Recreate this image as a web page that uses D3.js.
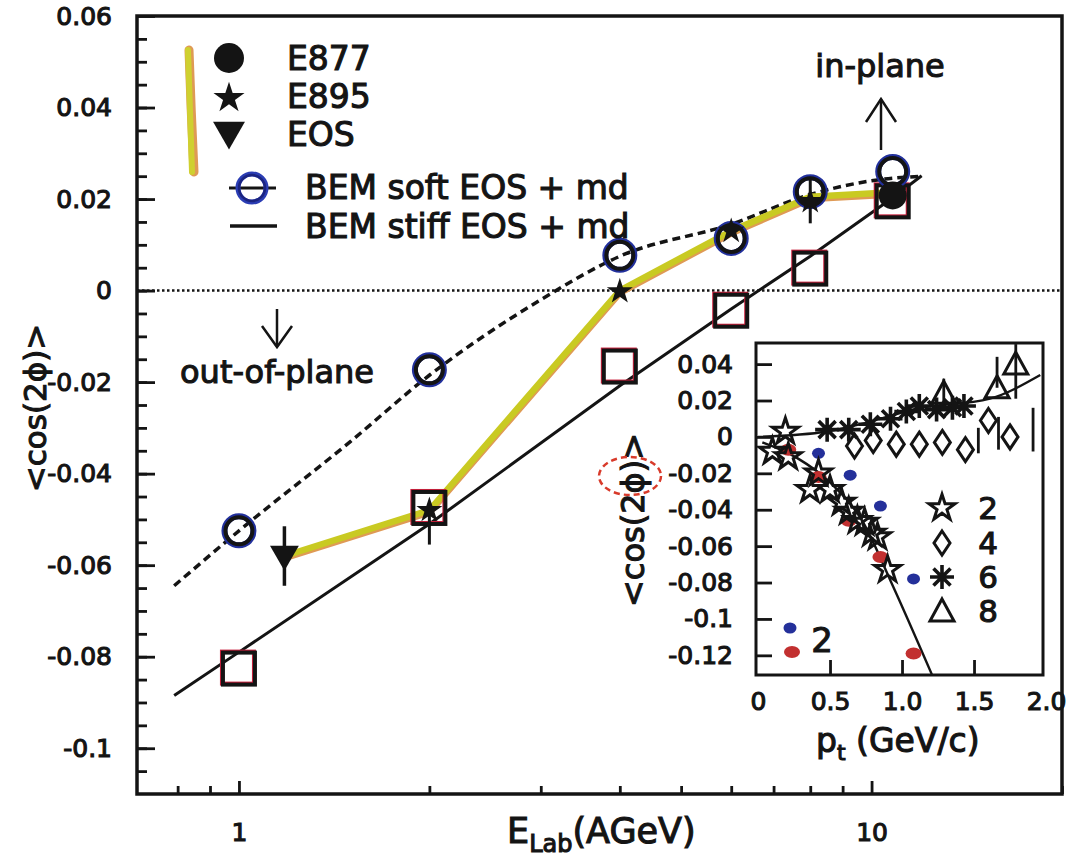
<!DOCTYPE html>
<html lang="en">
<head>
<meta charset="UTF-8">
<title>cos(2phi) vs E_Lab</title>
<script src="https://d3js.org/d3.v7.min.js"></script>
<style>
  body { margin: 0; background: #fff; }
  svg text { font-family: "DejaVu Sans", sans-serif; fill: #141414; stroke: #141414; stroke-width: 1.1px; }
</style>
</head>
<body>
<svg id="chart" width="1073" height="860"></svg>
<script>
// ---- main panel data (E_Lab in AGeV, <cos 2phi>) ----
const softX = [1, 2, 4, 6, 8, 10.8];
const softY = [-0.0525, -0.0173, 0.0077, 0.0114, 0.0216, 0.026];
const softCurveX = [0.79, 1, 1.5, 2, 3, 4, 6, 8, 10, 12];
const softCurveY = [-0.0645, -0.0525, -0.033, -0.0185, -0.002, 0.0075, 0.0145, 0.021, 0.024, 0.025];
const stiffX = [1, 2, 4, 6, 8, 10.8];
const stiffY = [-0.0826, -0.0475, -0.0166, -0.0044, 0.0048, 0.0195];
const stiffCurveX = [0.79, 1, 2, 4, 6, 8, 10.8, 12];
const stiffCurveY = [-0.0885, -0.079, -0.051, -0.0208, -0.004, 0.0075, 0.0203, 0.0251];
const e895X = [2, 4, 6, 8];
const e895Y = [-0.048, -0.0002, 0.013, 0.0195];
const e895Lo = [0.0075, 0, 0, 0.0048];
const e895Hi = [0.001, 0, 0, 0.005];
const e877X = [10.8];
const e877Y = [0.0208];
const eosX = [1.18];
const eosY = [-0.058];
const eosErr = [0.0065];
const highlightX = [1.18, 2, 4, 6, 8, 10.8];
const highlightY = [-0.058, -0.048, 0, 0.013, 0.0205, 0.0215];

const xMajor = [1, 10];
const xMinor = [0.8, 0.9, 2, 3, 4, 5, 6, 7, 8, 9, 20];
const xLabels = ["1", "10"];
const yMajor = [-0.1, -0.08, -0.06, -0.04, -0.02, 0, 0.02, 0.04, 0.06];
const yLabels = ["-0.1", "-0.08", "-0.06", "-0.04", "-0.02", "0", "0.02", "0.04", "0.06"];
const yMinor = d3.range(-21, 12).map(i => i * 0.005);

// ---- inset data (p_t in GeV/c) ----
const star2X = [0.10, 0.19, 0.21, 0.36, 0.42, 0.50, 0.58, 0.63, 0.69, 0.74, 0.79, 0.83, 0.90];
const star2Y = [-0.008, 0.003, -0.011, -0.029, -0.020, -0.029, -0.036, -0.041, -0.046, -0.047, -0.053, -0.055, -0.073];
const diam4X = [0.67, 0.80, 0.96, 1.12, 1.28, 1.44, 1.60, 1.75];
const diam4Y = [-0.005, -0.002, -0.004, -0.004, -0.003, -0.007, 0.009, 0.0];
const ast6X = [0.48, 0.63, 0.78, 0.92, 1.03, 1.12, 1.24, 1.35, 1.43];
const ast6Y = [0.004, 0.004, 0.007, 0.010, 0.014, 0.017, 0.015, 0.016, 0.017];
const tri8X = [1.29, 1.66, 1.79];
const tri8Y = [0.024, 0.027, 0.040];
const insetErrX = [1.29, 1.66, 1.79, 1.53, 1.67, 1.91];
const insetErrLo = [0.016, 0.027, 0.021, -0.009, -0.007, -0.008];
const insetErrHi = [0.032, 0.044, 0.051, 0.005, 0.011, 0.016];
const blueX = [0.42, 0.64, 0.85, 1.08];
const blueY = [-0.009, -0.021, -0.038, -0.078];
const redX = [0.21, 0.42, 0.63, 0.85, 1.08];
const redY = [-0.007, -0.022, -0.046, -0.066, -0.119];
const upperCurveX = [0, 0.48, 0.76, 1.10, 1.61, 1.96];
const upperCurveY = [0.0, 0.003, 0.008, 0.0155, 0.021, 0.034];
const lowerCurveX = [0.03, 0.27, 0.5, 0.73, 0.92, 1.21];
const lowerCurveY = [-0.003, -0.0115, -0.025, -0.047, -0.079, -0.131];
const insetXTicks = [0, 0.5, 1, 1.5, 2];
const insetXLabels = ["0", "0.5", "1.0", "1.5", "2.0"];
const insetYTicks = [-0.12, -0.1, -0.08, -0.06, -0.04, -0.02, 0, 0.02, 0.04];
const insetYLabels = ["-0.12", "-0.1", "-0.08", "-0.06", "-0.04", "-0.02", "0", "0.02", "0.04"];
const insetKeys = ["2", "4", "6", "8"];

const svg = d3.select("#chart");
const ink = "#141414";

// scales
const x = d3.scaleLog().domain([0.69, 20]).range([137, 1062]);
const y = d3.scaleLinear().domain([-0.11, 0.06]).range([794, 16]);
const xi = d3.scaleLinear().domain([-0.014, 1.979]).range([756, 1043]);
const yi = d3.scaleLinear().domain([-0.1308, 0.0516]).range([675, 343]);

const zip = (a, b) => a.map((v, i) => [v, b[i]]);
const line = (sx, sy, curve) => d3.line().x(d => sx(d[0])).y(d => sy(d[1])).curve(curve || d3.curveLinear);
const sym = (type, size) => d3.symbol().type(type).size(size)();

function styleAxis(g, fs) {
  g.select(".domain").remove();
  g.selectAll(".tick line").attr("stroke", ink).attr("stroke-width", 2.8);
  g.selectAll(".tick text").attr("font-family", "DejaVu Sans").attr("font-size", fs);
  g.attr("font-family", null).attr("font-size", null);
}

// ---- main axes ----
svg.append("g").attr("transform", "translate(137,0)")
  .call(d3.axisLeft(y).tickValues(yMinor).tickSize(-10).tickFormat(""))
  .call(g => styleAxis(g, 25));
svg.append("g").attr("transform", "translate(137,0)")
  .call(d3.axisLeft(y).tickValues(yMajor).tickSize(-18).tickPadding(25)
    .tickFormat(d => yLabels[yMajor.indexOf(d)]))
  .call(g => styleAxis(g, 25));
svg.append("g").attr("transform", "translate(0,794)")
  .call(d3.axisBottom(x).tickValues(xMinor).tickSize(-8).tickFormat(""))
  .call(g => styleAxis(g, 25));
svg.append("g").attr("transform", "translate(0,794)")
  .call(d3.axisBottom(x).tickValues(xMajor).tickSize(-13).tickPadding(29)
    .tickFormat(d => xLabels[xMajor.indexOf(d)]))
  .call(g => styleAxis(g, 25));

svg.append("rect").attr("x", 137).attr("y", 16).attr("width", 925).attr("height", 778)
  .attr("fill", "none").attr("stroke", ink).attr("stroke-width", 3.5);

// axis titles
const xt = svg.append("text").attr("x", 507).attr("y", 843).attr("font-size", 35);
xt.append("tspan").text("E");
xt.append("tspan").attr("font-size", 24).attr("dy", 9).text("Lab");
xt.append("tspan").attr("dy", -9).text("(AGeV)");
svg.append("text").attr("transform", "translate(35,408) rotate(-90)")
  .attr("text-anchor", "middle").attr("dy", "0.36em").attr("font-size", 31).text("<cos(2ϕ)>");

// zero line
svg.append("line").attr("x1", 137).attr("x2", 1062).attr("y1", y(0)).attr("y2", y(0))
  .attr("stroke", ink).attr("stroke-width", 2.5).attr("stroke-dasharray", "2.5,2.5");

// BEM soft (dashed curve) and stiff (solid line)
svg.append("path").attr("d", line(x, y, d3.curveMonotoneX)(zip(softCurveX, softCurveY)))
  .attr("fill", "none").attr("stroke", ink).attr("stroke-width", 3.5).attr("stroke-dasharray", "8,5");
svg.append("path").attr("d", line(x, y)(zip(stiffCurveX, stiffCurveY)))
  .attr("fill", "none").attr("stroke", ink).attr("stroke-width", 3);

// hand-drawn yellow highlight through data
const hl = zip(highlightX, highlightY);
svg.append("path").attr("d", line(x, y)(hl)).attr("transform", "translate(0,2)")
  .attr("fill", "none").attr("stroke", "#df9a55").attr("stroke-width", 7).attr("stroke-linecap", "round").attr("stroke-linejoin", "round");
svg.append("path").attr("d", line(x, y)(hl))
  .attr("fill", "none").attr("stroke", "#c9ca22").attr("stroke-width", 6.5).attr("stroke-linecap", "round").attr("stroke-linejoin", "round");

// stiff EOS squares
const sq = svg.append("g");
zip(stiffX, stiffY).forEach(([a, b]) => {
  sq.append("rect").attr("x", x(a) - 17).attr("y", y(b) - 17).attr("width", 32).attr("height", 32)
    .attr("fill", "none").attr("stroke", "#c8203c").attr("stroke-width", 4);
  sq.append("rect").attr("x", x(a) - 16).attr("y", y(b) - 16).attr("width", 32).attr("height", 32)
    .attr("fill", "none").attr("stroke", ink).attr("stroke-width", 4);
});

// soft EOS circles
const cg = svg.append("g");
zip(softX, softY).forEach(([a, b]) => {
  cg.append("circle").attr("cx", x(a)).attr("cy", y(b)).attr("r", 14.5)
    .attr("fill", "none").attr("stroke", "#22309c").attr("stroke-width", 6);
  cg.append("circle").attr("cx", x(a)).attr("cy", y(b)).attr("r", 13.5)
    .attr("fill", "none").attr("stroke", ink).attr("stroke-width", 4);
});

// data error bars
e895X.forEach((a, i) => {
  if (e895Lo[i] > 0) svg.append("line").attr("x1", x(a)).attr("x2", x(a))
    .attr("y1", y(e895Y[i] - e895Lo[i])).attr("y2", y(e895Y[i] + e895Hi[i])).attr("stroke", ink).attr("stroke-width", 3);
});
zip(eosX, eosErr).forEach(([a, e], i) => {
  svg.append("line").attr("x1", x(a)).attr("x2", x(a))
    .attr("y1", y(eosY[i] - e)).attr("y2", y(eosY[i] + e)).attr("stroke", ink).attr("stroke-width", 3.5);
});

// data markers
zip(e895X, e895Y).forEach(([a, b]) => {
  svg.append("path").attr("d", sym(d3.symbolStar, 210)).attr("transform", `translate(${x(a)},${y(b)})`).attr("fill", ink);
});
zip(e877X, e877Y).forEach(([a, b]) => {
  svg.append("circle").attr("cx", x(a)).attr("cy", y(b)).attr("r", 14).attr("fill", ink);
});
zip(eosX, eosY).forEach(([a, b]) => {
  svg.append("path").attr("d", sym(d3.symbolTriangle, 360))
    .attr("transform", `translate(${x(a)},${y(b) - 2}) rotate(180)`).attr("fill", ink);
});

// ---- legend ----
const lg = svg.append("g");
lg.append("path").attr("d", "M189,50 Q191,110 194,172").attr("fill", "none")
  .attr("stroke", "#df9a55").attr("stroke-width", 9).attr("stroke-linecap", "round");
lg.append("path").attr("d", "M188,50 Q190,110 192,172").attr("fill", "none")
  .attr("stroke", "#cfd030").attr("stroke-width", 6).attr("stroke-linecap", "round");
lg.append("circle").attr("cx", 229).attr("cy", 58).attr("r", 15).attr("fill", ink);
lg.append("path").attr("d", sym(d3.symbolStar, 300)).attr("transform", "translate(229,98)").attr("fill", ink);
lg.append("path").attr("d", sym(d3.symbolTriangle, 440)).attr("transform", "translate(229,131) rotate(180)").attr("fill", ink);
lg.append("line").attr("x1", 229).attr("x2", 276).attr("y1", 188).attr("y2", 188).attr("stroke", ink).attr("stroke-width", 3);
lg.append("circle").attr("cx", 252).attr("cy", 188).attr("r", 14).attr("fill", "none").attr("stroke", "#2b3db4").attr("stroke-width", 5);
lg.append("circle").attr("cx", 252).attr("cy", 188).attr("r", 13).attr("fill", "none").attr("stroke", "#1b2480").attr("stroke-width", 2.5);
lg.append("line").attr("x1", 230).attr("x2", 277).attr("y1", 226).attr("y2", 226).attr("stroke", ink).attr("stroke-width", 3.5);
const legTexts = [["E877", 287, 70], ["E895", 287, 108], ["EOS", 287, 146], ["BEM soft EOS + md", 305, 199], ["BEM stiff EOS + md", 305, 238]];
legTexts.forEach(([t, tx, ty]) => lg.append("text").attr("x", tx).attr("y", ty).attr("font-size", 33).text(t));

// annotations
svg.append("text").attr("x", 880).attr("y", 77).attr("text-anchor", "middle").attr("font-size", 32).text("in-plane");
svg.append("line").attr("x1", 881).attr("x2", 881).attr("y1", 150).attr("y2", 99).attr("stroke", ink).attr("stroke-width", 2.5);
svg.append("polyline").attr("points", "866,122 881,99 896,122").attr("fill", "none").attr("stroke", ink).attr("stroke-width", 2.5);
svg.append("text").attr("x", 277).attr("y", 383).attr("text-anchor", "middle").attr("font-size", 32).text("out-of-plane");
svg.append("line").attr("x1", 277).attr("x2", 277).attr("y1", 309).attr("y2", 347).attr("stroke", ink).attr("stroke-width", 2.5);
svg.append("polyline").attr("points", "262,326 277,347 292,326").attr("fill", "none").attr("stroke", ink).attr("stroke-width", 2.5);

// ---- inset ----
const ins = svg.append("g");
ins.append("rect").attr("x", 756).attr("y", 343).attr("width", 287).attr("height", 332).attr("fill", "#fff");

ins.append("path").attr("d", line(xi, yi, d3.curveMonotoneX)(zip(upperCurveX, upperCurveY)))
  .attr("fill", "none").attr("stroke", ink).attr("stroke-width", 2.4);
ins.append("path").attr("d", line(xi, yi, d3.curveMonotoneX)(zip(lowerCurveX, lowerCurveY)))
  .attr("fill", "none").attr("stroke", ink).attr("stroke-width", 2.4);

insetErrX.forEach((a, i) => {
  ins.append("line").attr("x1", xi(a)).attr("x2", xi(a)).attr("y1", yi(insetErrLo[i])).attr("y2", yi(insetErrHi[i]))
    .attr("stroke", ink).attr("stroke-width", 2.8);
});

// colored dots
zip(blueX, blueY).forEach(([a, b]) => ins.append("ellipse").attr("cx", xi(a)).attr("cy", yi(b)).attr("rx", 6.5).attr("ry", 5.5).attr("fill", "#24309a"));
zip(redX, redY).forEach(([a, b]) => ins.append("ellipse").attr("cx", xi(a)).attr("cy", yi(b)).attr("rx", 8).attr("ry", 6).attr("fill", "#c23030"));

const diamondPath = "M0,-12L8,0L0,12L-8,0Z";
const asteriskPath = "M0,-12V12M-12,0H12M-8.5,-8.5L8.5,8.5M-8.5,8.5L8.5,-8.5";
const triUpPath = "M0,-12L12,10H-12Z";
const starPath = sym(d3.symbolStar, 210);
const openMark = (p, a, b, w) => ins.append("path").attr("d", p).attr("transform", `translate(${a},${b})`)
  .attr("fill", "none").attr("stroke", ink).attr("stroke-width", w).attr("stroke-linejoin", "miter");

zip(diam4X, diam4Y).forEach(([a, b]) => openMark(diamondPath, xi(a), yi(b), 3));
zip(ast6X, ast6Y).forEach(([a, b]) => openMark(asteriskPath, xi(a), yi(b), 3.6));
zip(tri8X, tri8Y).forEach(([a, b]) => openMark(triUpPath, xi(a), yi(b), 3));
zip(star2X, star2Y).forEach(([a, b]) => openMark(starPath, xi(a), yi(b), 3));

// inset legend
const keyPaths = [starPath, diamondPath, asteriskPath, triUpPath];
const keyY = [508, 543, 577, 611];
keyPaths.forEach((p, i) => {
  openMark(p, 942, keyY[i], i === 2 ? 3.6 : 3);
  ins.append("text").attr("x", 988).attr("y", keyY[i]).attr("dy", "0.36em").attr("text-anchor", "middle").attr("font-size", 31).text(insetKeys[i]);
});
ins.append("ellipse").attr("cx", 790).attr("cy", 628).attr("rx", 6.5).attr("ry", 5.5).attr("fill", "#24309a");
ins.append("ellipse").attr("cx", 792).attr("cy", 652).attr("rx", 8).attr("ry", 6).attr("fill", "#c23030");
ins.append("text").attr("x", 822).attr("y", 640).attr("dy", "0.36em").attr("text-anchor", "middle").attr("font-size", 34).text("2");

// inset axes
ins.append("g").attr("transform", "translate(756,0)")
  .call(d3.axisLeft(yi).tickValues(insetYTicks).tickSize(-16).tickPadding(23)
    .tickFormat(d => insetYLabels[insetYTicks.indexOf(d)]))
  .call(g => styleAxis(g, 25));
ins.append("g").attr("transform", "translate(0,675)")
  .call(d3.axisBottom(xi).tickValues(insetXTicks).tickSize(-15).tickPadding(17)
    .tickFormat(d => insetXLabels[insetXTicks.indexOf(d)]))
  .call(g => styleAxis(g, 25))
  .call(g => g.selectAll(".tick line").filter(d => d === 0 || d === 2).remove());
ins.append("rect").attr("x", 756).attr("y", 343).attr("width", 287).attr("height", 332)
  .attr("fill", "none").attr("stroke", ink).attr("stroke-width", 3);

const pt = ins.append("text").attr("x", 816).attr("y", 752).attr("font-size", 33);
pt.append("tspan").text("p");
pt.append("tspan").attr("font-size", 22).attr("dy", 8).text("t");
pt.append("tspan").attr("dy", -8).text(" (GeV/c)");
ins.append("text").attr("transform", "translate(632,520) rotate(-90)")
  .attr("text-anchor", "middle").attr("dy", "0.36em").attr("font-size", 32).text("<cos(2ϕ)>");
ins.append("ellipse").attr("cx", 630).attr("cy", 476).attr("rx", 31).attr("ry", 19)
  .attr("fill", "none").attr("stroke", "#d83a2a").attr("stroke-width", 2.5).attr("stroke-dasharray", "6,4");
</script>
</body>
</html>
